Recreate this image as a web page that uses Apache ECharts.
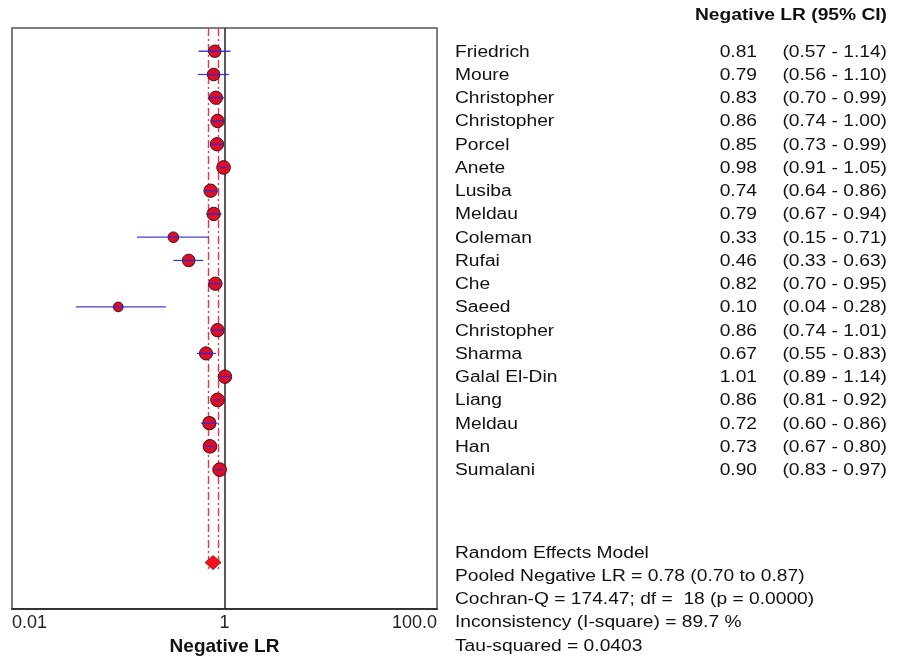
<!DOCTYPE html>
<html><head><meta charset="utf-8">
<script src="https://cdn.jsdelivr.net/npm/echarts@6/dist/echarts.min.js"></script>
<style>html,body{margin:0;padding:0;background:#fff}#c{width:907px;height:661px}</style>
</head><body><div id="c"></div>
<script>
var studies = ['Friedrich','Moure','Christopher','Christopher','Porcel','Anete','Lusiba','Meldau','Coleman','Rufai','Che','Saeed','Christopher','Sharma','Galal El-Din','Liang','Meldau','Han','Sumalani'];
var nlr = [0.81,0.79,0.83,0.86,0.85,0.98,0.74,0.79,0.33,0.46,0.82,0.10,0.86,0.67,1.01,0.86,0.72,0.73,0.90];
var ciLow = [0.57,0.56,0.70,0.74,0.73,0.91,0.64,0.67,0.15,0.33,0.70,0.04,0.74,0.55,0.89,0.81,0.60,0.67,0.83];
var ciHigh = [1.14,1.10,0.99,1.00,0.99,1.05,0.86,0.94,0.71,0.63,0.95,0.28,1.01,0.83,1.14,0.92,0.86,0.80,0.97];
var pooled = [0.78, 0.70, 0.87];
var pooledRow = 22;
var statsLines = ['Random Effects Model','Pooled Negative LR = 0.78 (0.70 to 0.87)','Cochran-Q = 174.47; df =  18 (p = 0.0000)','Inconsistency (I-square) = 89.7 %','Tau-squared = 0.0403'];
var headerText = 'Negative LR (95% CI)';
var tickLabels = {'0.01':'0.01','1':'1','100':'100.0'};

var FONT = '"Liberation Sans", Arial, sans-serif';
var SX = 1.2;
function fmt(v){return v.toFixed(2);}

var rows = studies.map(function(s,i){return [nlr[i], i, ciLow[i], ciHigh[i]];});
var sizes = studies.map(function(s,i){var w=Math.log(ciHigh[i]/ciLow[i]);return Math.max(9.5, Math.min(14, 14-2.2*w));});

function txt(x,y,text,align,bold){
  return {type:'text', x:x, y:y, scaleX:SX, scaleY:1, silent:true,
    style:{x:0,y:0,text:text,fill:'#111',font:(bold?'bold ':'')+'16px '+FONT,align:align,verticalAlign:'middle'}};
}

var chart = echarts.init(document.getElementById('c'));
chart.setOption({
  animation:false,
  grid:{left:12,right:470,top:28,bottom:49,show:true,borderColor:'#555',borderWidth:1.5,backgroundColor:'#fff'},
  xAxis:{type:'log',logBase:10,min:0.01,max:100,interval:1,
    axisLine:{show:true,onZero:false,lineStyle:{color:'#333',width:2}},axisTick:{show:false},splitLine:{show:false},
    axisLabel:{margin:5,fontSize:18,fontFamily:FONT,color:'#222',alignMinLabel:'left',alignMaxLabel:'right',
      formatter:function(v){var k=String(+v.toPrecision(6));return tickLabels[k]||'';}},
    name:'Negative LR',nameLocation:'middle',nameGap:26,
    nameTextStyle:{fontSize:19,fontWeight:'bold',fontFamily:FONT,color:'#111',verticalAlign:'top'}},
  yAxis:{type:'value',min:-1,max:24,inverse:true,show:false},
  graphic:[txt(887,16,headerText,'right',true)],
  series:[
    {type:'scatter',z:2,data:rows.map(function(r,i){return {value:[r[0],r[1]],symbolSize:sizes[i]};}),
      symbol:'circle',itemStyle:{color:'#dc0f2a',borderColor:'#4a0a10',borderWidth:1,opacity:1},
      markLine:{silent:true,symbol:'none',label:{show:false},animation:false,z:1,
        data:[
          [{coord:[1,-1],lineStyle:{color:'#222',width:1.5,type:'solid'}},{coord:[1,24]}],
          [{coord:[pooled[1],-1],lineStyle:{color:'#e8334a',width:1.4,type:[8,3,2,3]}},{coord:[pooled[1],pooledRow+0.4]}],
          [{coord:[pooled[2],-1],lineStyle:{color:'#e8334a',width:1.4,type:[8,3,2,3]}},{coord:[pooled[2],pooledRow+0.4]}]
        ]}},
    {type:'custom',clip:false,z:3,data:rows,encode:{x:0,y:1},
      renderItem:function(params,api){
        var i=params.dataIndex;
        var p1=api.coord([api.value(2),api.value(1)]);
        var p2=api.coord([api.value(3),api.value(1)]);
        var y=p1[1];
        return {type:'group',children:[
          {type:'line',shape:{x1:p1[0],y1:y,x2:p2[0],y2:y},style:{stroke:'#2a2acf',lineWidth:1.3,opacity:0.9}},
          txt(455,y+1,studies[i],'left',false),
          txt(757,y+1,fmt(nlr[i]),'right',false),
          txt(887,y+1,'('+fmt(ciLow[i])+' - '+fmt(ciHigh[i])+')','right',false)
        ]};
      }},
    {type:'custom',clip:false,z:4,data:[[pooled[0],pooledRow]],encode:{x:0,y:1},
      renderItem:function(params,api){
        var c=api.coord([api.value(0),api.value(1)]);
        var ch=[{type:'polygon',shape:{points:[[c[0],c[1]-7],[c[0]+8,c[1]],[c[0],c[1]+7],[c[0]-8,c[1]]]},
          style:{fill:'#f5101a',stroke:'#8a1010',lineWidth:0.8}}];
        statsLines.forEach(function(s,k){
          var yy=api.coord([1,pooledRow-0.45+k*1.0])[1];
          ch.push(txt(455,yy+1,s,'left',false));
        });
        return {type:'group',children:ch};
      }}
  ]
});
</script></body></html>
